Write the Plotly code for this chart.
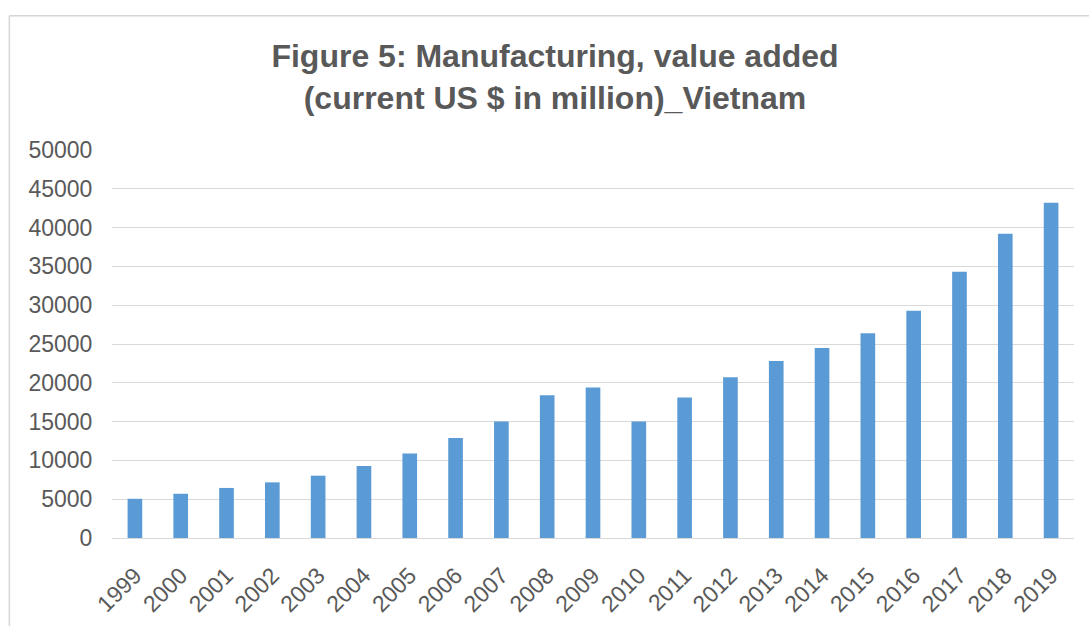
import plotly.graph_objects as go

years = [str(y) for y in range(1999, 2020)]
values = [5050, 5700, 6450, 7170, 8030, 9280, 10900, 12900, 15000, 18400, 19400,
          15000, 18100, 20700, 22800, 24500, 26400, 29300, 34300, 39200, 43200]
y_ticks = [0, 5000, 10000, 15000, 20000, 25000, 30000, 35000, 40000, 45000, 50000]

title_text = "Figure 5: Manufacturing, value added<br>(current US $ in million)_Vietnam"
font_family = "Liberation Sans, Arial, Helvetica, sans-serif"
text_color = "#595959"
grid_color = "#d9d9d9"

fig = go.Figure()
fig.add_trace(go.Bar(x=years, y=values, marker=dict(color="#5b9bd5", line=dict(width=0))))

fig.update_layout(
    width=1089, height=626,
    margin=dict(l=112, r=15, t=150, b=88),
    paper_bgcolor="white", plot_bgcolor="white",
    bargap=0.68,
    showlegend=False,
    title=dict(text=title_text, x=(555.0 / 1089), xanchor="center", y=0.893, yanchor="top",
               font=dict(family=font_family, size=32, color=text_color, weight="bold")),
    font=dict(family=font_family, color=text_color),
    shapes=[
        dict(type="line", xref="paper", yref="paper", x0=-0.1067, x1=1.03, y0=1.3458, y1=1.3458,
             line=dict(color="#d6d6d6", width=1.5), layer="below"),
        dict(type="line", xref="paper", yref="paper", x0=-0.1067, x1=-0.1067, y0=-0.3, y1=1.3458,
             line=dict(color="#d6d6d6", width=1.5), layer="below"),
    ],
)
fig.update_xaxes(type="category", tickangle=-45, tickfont=dict(size=23, color=text_color),
                 showgrid=False, showline=False, ticks="outside", ticklen=14,
                 tickcolor="rgba(0,0,0,0)", automargin=False)
fig.update_yaxes(range=[0, 50000], tickvals=y_ticks, ticktext=[str(v) for v in y_ticks],
                 tickfont=dict(size=23, color=text_color), showgrid=True, gridcolor=grid_color,
                 gridwidth=1.3, zeroline=True, zerolinecolor=grid_color, zerolinewidth=1.3,
                 showline=False, ticks="outside", ticklen=14, tickcolor="rgba(0,0,0,0)",
                 automargin=False)

fig.write_html("out.html")
